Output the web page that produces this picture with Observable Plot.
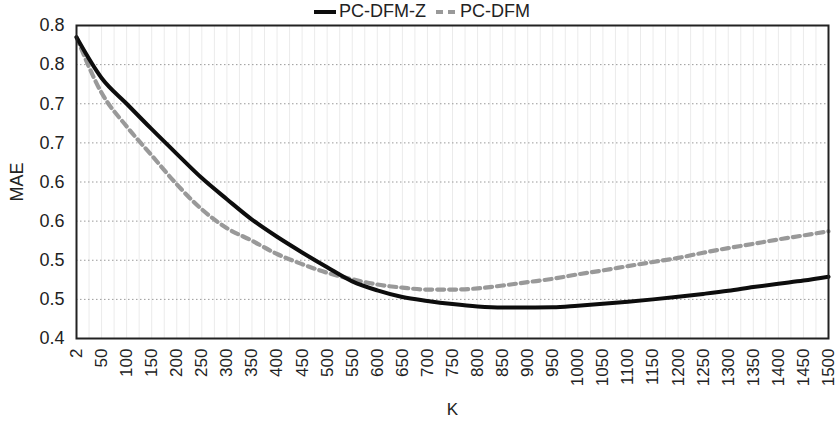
<!DOCTYPE html>
<html>
<head>
<meta charset="utf-8">
<script src="https://cdn.jsdelivr.net/npm/d3@7"></script>
<script src="https://cdn.jsdelivr.net/npm/@observablehq/plot@0.6"></script>
<style>
  html, body { margin: 0; padding: 0; background: #fff; }
  #wrap { position: relative; width: 837px; height: 424px; font-family: "Liberation Sans", Arial, sans-serif; }
  #legend { position: absolute; top: 1px; left: 314px; display: flex; align-items: center; font-size: 18px; color: #222; }
  #legend .item { display: flex; align-items: center; }
  #legend svg { display: block; }
</style>
</head>
<body>
<div id="wrap">
  <div id="legend"></div>
</div>
<script>
const kLabels = ["2","50","100","150","200","250","300","350","400","450","500","550","600","650","700","750","800","850","900","950","1000","1050","1100","1150","1200","1250","1300","1350","1400","1450","1500"];
const pcDfmZ = [0.785,0.733,0.700,0.6675,0.636,0.605,0.578,0.552,0.530,0.510,0.491,0.473,0.4615,0.453,0.448,0.444,0.441,0.4397,0.4397,0.440,0.442,0.4443,0.447,0.450,0.4533,0.457,0.461,0.4657,0.470,0.474,0.479];
const pcDfm  = [0.785,0.714,0.671,0.634,0.597,0.565,0.541,0.525,0.508,0.495,0.484,0.4757,0.469,0.465,0.4625,0.4625,0.464,0.4677,0.472,0.4763,0.482,0.487,0.4925,0.4978,0.503,0.5096,0.5155,0.521,0.5266,0.5317,0.537];
const seriesNames = ["PC-DFM-Z", "PC-DFM"];
const yTicks = [0.4,0.45,0.5,0.55,0.6,0.65,0.7,0.75,0.8];
const yTickLabels = ["0.4","0.5","0.5","0.6","0.6","0.7","0.7","0.8","0.8"];

const xIdx = kLabels.map((_, i) => i);
const halfGrid = d3.range(1, 2 * (kLabels.length - 1)).map(j => j / 2);
const rows = [];
kLabels.forEach((k, i) => {
  rows.push({i, v: pcDfmZ[i], s: seriesNames[0]});
  rows.push({i, v: pcDfm[i], s: seriesNames[1]});
});

const chart = Plot.plot({
  width: 837,
  height: 424,
  marginLeft: 76,
  marginRight: 9,
  marginTop: 25,
  marginBottom: 86,
  style: {fontFamily: "'Liberation Sans', Arial, sans-serif", color: "#222", background: "#fff"},
  x: {type: "linear", domain: [0, kLabels.length - 1]},
  y: {domain: [yTicks[0], yTicks[yTicks.length - 1]]},
  marks: [
    Plot.ruleX(halfGrid, {stroke: "#ebebeb", strokeWidth: 1}),
    Plot.ruleY(yTicks.slice(1, -1), {stroke: "#9a9a9a", strokeWidth: 1, strokeDasharray: "1.5,2.5"}),
    Plot.line(rows.filter(d => d.s === seriesNames[1]), {x: "i", y: "v", curve: "monotone-x", stroke: "#999", strokeWidth: 4.2, strokeDasharray: "7,5"}),
    Plot.line(rows.filter(d => d.s === seriesNames[0]), {x: "i", y: "v", curve: "monotone-x", stroke: "#0d0d0d", strokeWidth: 4}),
    Plot.frame({stroke: "#222", strokeWidth: 2}),
    Plot.axisX({ticks: xIdx, tickFormat: i => kLabels[i], tickRotate: -90, tickSize: 0, tickPadding: 10, fontSize: 17,
      label: "K", labelAnchor: "center", labelArrow: "none", labelOffset: 76}),
    Plot.axisY({ticks: yTicks, tickFormat: d => yTickLabels[yTicks.indexOf(d)], tickSize: 0, tickPadding: 12, fontSize: 18,
      label: "MAE", labelAnchor: "center", labelArrow: "none", labelOffset: 66})
  ]
});
document.getElementById("wrap").appendChild(chart);

// legend
const legend = d3.select("#legend");
const it1 = legend.append("div").attr("class", "item");
const s1 = it1.append("svg").attr("width", 25).attr("height", 20);
s1.append("line").attr("x1", 0).attr("x2", 22).attr("y1", 10).attr("y2", 10).attr("stroke", "#0d0d0d").attr("stroke-width", 4);
it1.append("span").text(seriesNames[0]);
const it2 = legend.append("div").attr("class", "item").style("margin-left", "10px");
const s2 = it2.append("svg").attr("width", 24).attr("height", 20);
s2.append("line").attr("x1", 0).attr("x2", 20).attr("y1", 10).attr("y2", 10).attr("stroke", "#999").attr("stroke-width", 4.2).attr("stroke-dasharray", "7,5");
it2.append("span").text(seriesNames[1]);
</script>
</body>
</html>
